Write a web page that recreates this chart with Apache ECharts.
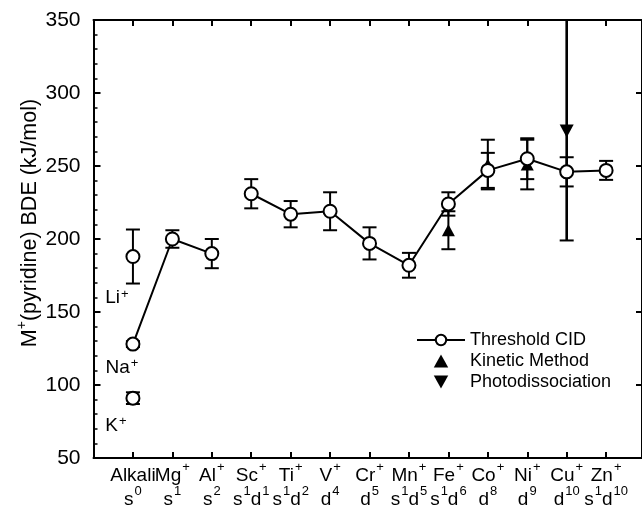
<!DOCTYPE html>
<html><head><meta charset="utf-8">
<script src="https://cdn.jsdelivr.net/npm/echarts@6/dist/echarts.min.js"></script>
<style>html,body{margin:0;padding:0;background:#fff}#c{width:642px;height:509px}</style>
</head><body><div id="c"></div>
<script>
// ---- tick labels ----
const metals = ['Alkali','Mg','Al','Sc','Ti','V','Cr','Mn','Fe','Co','Ni','Cu','Zn'];
const metalCharges = ['','+','+','+','+','+','+','+','+','+','+','+','+'];
const configs = [
  [['s','0']],[['s','1']],[['s','2']],[['s','1'],['d','1']],[['s','1'],['d','2']],
  [['d','4']],[['d','5']],[['s','1'],['d','5']],[['s','1'],['d','6']],
  [['d','8']],[['d','9']],[['d','10']],[['s','1'],['d','10']]
];
// ---- Threshold CID: alkali column ----
const alkaliNames = ['Li','Na','K'];
const alkaliValues = [188, 128, 91];
const alkaliErrors = [18.5, 2, 4];
// ---- Threshold CID: Mg ... Zn (category index 1..12) ----
const cidIndex = [1,2,3,4,5,6,7,8,9,10,11,12];
const cidValues = [200, 190, 231, 217, 219, 197, 182, 224, 247, 255, 246, 247];
const cidErrors = [6, 10, 10, 9, 13, 11, 8.5, 8, 12, 14, 10, 6.5];
// ---- Kinetic method ----
const kinIndex = [8, 9, 10];
const kinValues = [206, 251, 251];
const kinErrors = [13, 17, 17];
// ---- Photodissociation ----
const photoIndex = [11];
const photoValues = [274];
const photoErrLow = [75];
const photoErrHigh = [80];

const FONT = '"Liberation Sans", Arial, Helvetica, sans-serif';
const UP_TRI = 'path://M5,0 L10,9 L0,9 Z';
const DOWN_TRI = 'path://M0,0 L10,0 L5,9 Z';

function xLabel(v){
  if (Math.abs(v - Math.round(v)) > 1e-6) return '';
  const i = Math.round(v);
  if (i < 0 || i >= metals.length) return '';
  let top = '{m|' + metals[i] + '}' + (metalCharges[i] ? '{sp|' + metalCharges[i] + '}' : '');
  let bot = configs[i].map(p => '{m|' + p[0] + '}{sp|' + p[1] + '}').join('');
  return top + '\n' + bot;
}

const errCid = [];
alkaliValues.forEach((v,k)=> errCid.push([0, v, v-alkaliErrors[k], v+alkaliErrors[k]]));
cidIndex.forEach((x,k)=> errCid.push([x, cidValues[k], cidValues[k]-cidErrors[k], cidValues[k]+cidErrors[k]]));
const errKin = kinIndex.map((x,k)=>[x, kinValues[k], kinValues[k]-kinErrors[k], kinValues[k]+kinErrors[k]]);
const errPhoto = photoIndex.map((x,k)=>[x, photoValues[k], photoValues[k]-photoErrLow[k], photoValues[k]+photoErrHigh[k]]);

function errRender(lw){
  return function(params, api){
    const x = api.value(0), lo = api.value(2), hi = api.value(3);
    const a = api.coord([x, hi]), b = api.coord([x, lo]);
    const w = 7;
    const st = {stroke:'#000', lineWidth: lw};
    return {type:'group', children:[
      {type:'line', shape:{x1:a[0], y1:a[1], x2:b[0], y2:b[1]}, style:st},
      {type:'line', shape:{x1:a[0]-w, y1:a[1], x2:a[0]+w, y2:a[1]}, style:{stroke:'#000', lineWidth:2}},
      {type:'line', shape:{x1:b[0]-w, y1:b[1], x2:b[0]+w, y2:b[1]}, style:{stroke:'#000', lineWidth:2}}
    ]};
  };
}

// Na point starts the first segment; its circle is drawn by the alkali scatter series
const seg1 = [{value:[0, alkaliValues[1]], symbol:'none'}, [cidIndex[0], cidValues[0]], [cidIndex[1], cidValues[1]]];
const seg2 = cidIndex.slice(2).map((x,k)=>[x, cidValues[k+2]]);

const labelOffsets = [[-16, 41], [-11, 23], [-17, 27]];
const alkaliPts = alkaliValues.map((v,k)=>({
  value:[0, v],
  label:{show:true, position:'inside', offset: labelOffsets[k],
    formatter: '{m|' + alkaliNames[k] + '}{sp|+}',
    rich:{m:{fontSize:19, fontFamily:FONT, color:'#000', lineHeight:20, verticalAlign:'bottom'},
          sp:{fontSize:13, fontFamily:FONT, color:'#000', lineHeight:20, verticalAlign:'top', padding:[0,0,0,1]}}}
}));

const circleStyle = {color:'#fff', borderColor:'#000', borderWidth:2, opacity:1};
const xCommon = {type:'value', min:-1, max:12.91, interval:1};

const option = {
  animation:false,
  backgroundColor:'#fff',
  grid:{left:93.5, top:20, right:-1, bottom:51},
  legend:{
    orient:'vertical', left:411, top:326, itemWidth:48, itemHeight:13, itemGap:3,
    textStyle:{fontSize:18, fontFamily:FONT, color:'#000'},
    data:[
      {name:'Threshold CID'},
      {name:'Kinetic Method', icon:UP_TRI},
      {name:'Photodissociation', icon:DOWN_TRI}
    ]
  },
  xAxis:[
    Object.assign({}, xCommon, {position:'bottom',
      axisLine:{onZero:false, lineStyle:{color:'#000', width:2}},
      axisTick:{inside:true, length:6, lineStyle:{color:'#000', width:2}},
      splitLine:{show:false},
      axisLabel:{margin:3, formatter:xLabel, interval:0, showMinLabel:false, showMaxLabel:false,
        rich:{
          m:{fontSize:19, fontFamily:FONT, color:'#000', lineHeight:24, verticalAlign:'bottom'},
          sp:{fontSize:13, fontFamily:FONT, color:'#000', lineHeight:24, verticalAlign:'top', padding:[0,0,0,1]}
        }}}),
    Object.assign({}, xCommon, {position:'top',
      axisLine:{onZero:false, lineStyle:{color:'#000', width:2}},
      axisTick:{inside:true, length:6, lineStyle:{color:'#000', width:2}},
      splitLine:{show:false}, axisLabel:{show:false}})
  ],
  yAxis:[
    {type:'value', min:50, max:350, interval:50, position:'left',
      name:'{m|M}{sp|+}{m|(pyridine) BDE (kJ/mol)}', nameLocation:'middle', nameGap:52,
      nameMoveOverlap:false,
      nameTextStyle:{padding:[0,0,0,32],
        rich:{m:{fontSize:21.5, fontFamily:FONT, color:'#000', lineHeight:26, verticalAlign:'bottom'},
              sp:{fontSize:14, fontFamily:FONT, color:'#000', lineHeight:26, verticalAlign:'top'}}},
      axisLine:{show:true, onZero:false, lineStyle:{color:'#000', width:2}},
      axisTick:{show:true, inside:true, length:7, lineStyle:{color:'#000', width:2}},
      minorTick:{show:true, splitNumber:5, length:4, lineStyle:{color:'#000', width:1.5}},
      splitLine:{show:false},
      axisLabel:{margin:13, fontSize:21, fontFamily:FONT, color:'#000'}},
    {type:'value', min:50, max:350, interval:50, position:'right',
      axisLine:{show:true, onZero:false, lineStyle:{color:'#000', width:2}},
      axisTick:{show:true, inside:true, length:6, lineStyle:{color:'#000', width:2}},
      splitLine:{show:false}, axisLabel:{show:false}}
  ],
  series:[
    {name:'Threshold CID', type:'line', data:seg2, symbol:'circle', symbolSize:13,
      itemStyle:circleStyle, lineStyle:{color:'#000', width:2}, z:5},
    {name:'Threshold CID', type:'line', data:seg1, symbol:'circle', symbolSize:13,
      itemStyle:circleStyle, lineStyle:{color:'#000', width:2}, z:5},
    {name:'Threshold CID', type:'scatter', data:alkaliPts, symbol:'circle', symbolSize:13,
      itemStyle:circleStyle, z:6},
    {name:'Kinetic Method', type:'scatter', data:kinIndex.map((x,k)=>[x, kinValues[k]]),
      symbol:UP_TRI, symbolSize:[13,12], itemStyle:{color:'#000', opacity:1}, z:4},
    {name:'Photodissociation', type:'scatter', data:photoIndex.map((x,k)=>[x, photoValues[k]]),
      symbol:DOWN_TRI, symbolSize:[14,13], itemStyle:{color:'#000', opacity:1}, z:6},
    {type:'custom', renderItem:errRender(2), data:errCid, z:3, clip:true, silent:true},
    {type:'custom', renderItem:errRender(2), data:errKin, z:3, clip:true, silent:true},
    {type:'custom', renderItem:errRender(2.6), data:errPhoto, z:3, clip:true, silent:true}
  ]
};
const chart = echarts.init(document.getElementById('c'));
chart.setOption(option);
</script></body></html>
